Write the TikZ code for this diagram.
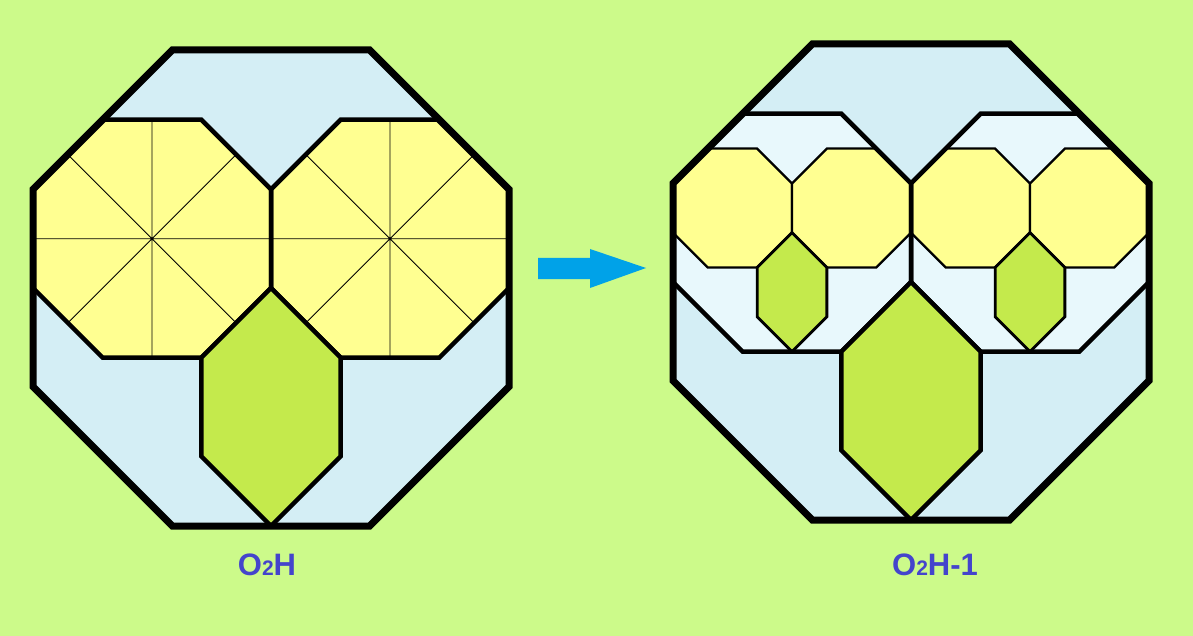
\documentclass[tikz,border=0pt]{standalone}
\usepackage{fontspec}
\setmainfont{Liberation Sans}
\definecolor{bg}{RGB}{204,250,138}
\definecolor{skyfill}{RGB}{212,238,245}
\definecolor{palefill}{RGB}{232,248,252}
\definecolor{yelfill}{RGB}{255,255,145}
\definecolor{grnfill}{RGB}{196,234,76}
\definecolor{labelcol}{RGB}{68,68,204}
\definecolor{arrowcol}{RGB}{0,162,232}
% octagon: cx, cy, apothem, style
\newcommand\octo[4]{\path[#4] ({#1-#3},{#2-#3*0.41421}) -- ({#1-#3*0.41421},{#2-#3}) -- ({#1+#3*0.41421},{#2-#3}) -- ({#1+#3},{#2-#3*0.41421}) -- ({#1+#3},{#2+#3*0.41421}) -- ({#1+#3*0.41421},{#2+#3}) -- ({#1-#3*0.41421},{#2+#3}) -- ({#1-#3},{#2+#3*0.41421}) -- cycle;}
% hexagon below the meeting point of two octagons: top x, top y, outer apothem, style
\newcommand\hexa[4]{\path[#4] ({#1},{#2}) -- ({#1+#3*0.29289},{#2+#3*0.29289}) -- ({#1+#3*0.29289},{#2+#3*0.70711}) -- ({#1},{#2+#3}) -- ({#1-#3*0.29289},{#2+#3*0.70711}) -- ({#1-#3*0.29289},{#2+#3*0.29289}) -- cycle;}
% spokes: cx, cy, apothem
\newcommand\spokes[3]{\draw[spoke] ({#1-#3},{#2}) -- ({#1+#3},{#2}) ({#1},{#2-#3}) -- ({#1},{#2+#3}) ({#1-#3*0.70711},{#2-#3*0.70711}) -- ({#1+#3*0.70711},{#2+#3*0.70711}) ({#1-#3*0.70711},{#2+#3*0.70711}) -- ({#1+#3*0.70711},{#2-#3*0.70711});}
\tikzset{
  outerline/.style={draw=black,line width=7pt},
  midline/.style={draw=black,line width=4.5pt},
  smallline/.style={draw=black,line width=2.3pt},
  spoke/.style={draw=black,line width=0.9pt},
  lbl/.style={text=labelcol,font=\bfseries\fontsize{31}{31}\selectfont,anchor=base,inner sep=0pt},
}
\begin{document}
\begin{tikzpicture}[x=1pt,y=-1pt]
\path[fill=bg] (0,0) rectangle (1193,636);
\useasboundingbox (0,0) rectangle (1193,636);
% ---------------- left diagram ----------------
\octo{271}{288}{238}{fill=skyfill}
\octo{152}{238.71}{119}{fill=yelfill}
\octo{390}{238.71}{119}{fill=yelfill}
\spokes{152}{238.71}{119}
\spokes{390}{238.71}{119}
\octo{152}{238.71}{119}{midline}
\octo{390}{238.71}{119}{midline}
\hexa{271}{288}{238}{fill=grnfill,midline}
\octo{271}{288}{238}{outerline}
% ---------------- arrow ----------------
\path[fill=arrowcol] (538,258) -- (590,258) -- (590,249) -- (646,268) -- (590,288) -- (590,279) -- (538,279) -- cycle;
% ---------------- right diagram ----------------
\octo{911}{282}{238}{fill=skyfill}
\octo{792}{232.71}{119}{fill=palefill}
\octo{1030}{232.71}{119}{fill=palefill}
\octo{732.5}{208.06}{59.5}{fill=yelfill,smallline}
\octo{851.5}{208.06}{59.5}{fill=yelfill,smallline}
\octo{970.5}{208.06}{59.5}{fill=yelfill,smallline}
\octo{1089.5}{208.06}{59.5}{fill=yelfill,smallline}
\hexa{792}{232.71}{119}{fill=grnfill,line width=2.8pt,draw=black}
\hexa{1030}{232.71}{119}{fill=grnfill,line width=2.8pt,draw=black}
\octo{792}{232.71}{119}{midline}
\octo{1030}{232.71}{119}{midline}
\hexa{911}{282}{238}{fill=grnfill,midline}
\octo{911}{282}{238}{outerline}
% ---------------- labels ----------------
\node[lbl] (labA) at (267,575) {O{\fontsize{21}{21}\selectfont 2}H};
\node[lbl] (labB) at (935,575) {O{\fontsize{21}{21}\selectfont 2}H-1};
\end{tikzpicture}
\end{document}
